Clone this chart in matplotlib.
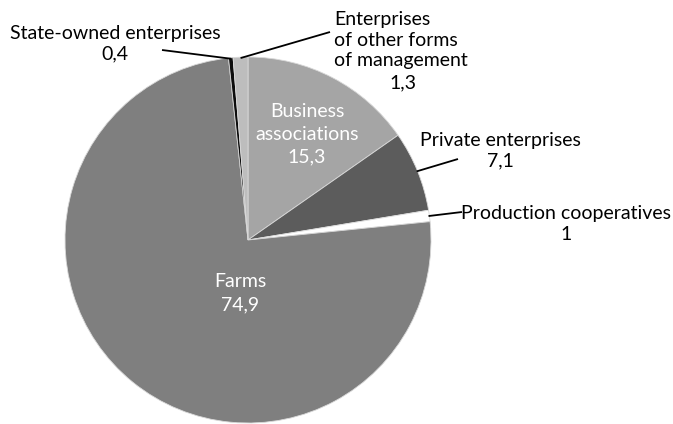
import numpy as np
import matplotlib.pyplot as plt

plt.rcParams["font.family"] = ["Lato", "DejaVu Sans"]

# clockwise from 12 o'clock
categories = ["Business associations", "Private enterprises", "Production cooperatives",
              "Farms", "State-owned enterprises", "Enterprises of other forms of management"]
values = [15.3, 7.1, 1.0, 74.9, 0.4, 1.3]
value_labels = ["15,3", "7,1", "1", "74,9", "0,4", "1,3"]
colors = ["#a5a5a5", "#5c5c5c", "#ffffff", "#7f7f7f", "#0d0d0d", "#bdbdbd"]

W, H = 673, 424
fig = plt.figure(figsize=(W / 100, H / 100), dpi=100)
ax = fig.add_axes([0, 0, 1, 1])

cx, cy, r = 248, H - 240, 183
wedges, _ = ax.pie(values, colors=colors, startangle=90, counterclock=False,
                   center=(cx, cy), radius=r, frame=True,
                   wedgeprops=dict(linewidth=0.6, edgecolor="#d9d9d9"))
ax.set_xlim(0, W)
ax.set_ylim(0, H)
ax.set_aspect("equal")
ax.axis("off")


def edge_point(i, frac=1.0):
    w = wedges[i]
    a = np.deg2rad((w.theta1 + w.theta2) / 2)
    return cx + r * frac * np.cos(a), cy + r * frac * np.sin(a)


fs = 14
# inside labels
ax.text(307, H - 134, "Business\nassociations\n" + value_labels[0], color="white",
        ha="center", va="center", fontsize=fs, linespacing=1.42)
ax.text(240, H - 293, "Farms\n" + value_labels[3], color="white",
        ha="center", va="center", fontsize=fs, linespacing=1.42)

# outside labels with leader lines
def leader(i, tx, ty):
    x0, y0 = edge_point(i, 0.995)
    ax.plot([x0, tx], [y0, H - ty], color="black", lw=1.3, solid_capstyle="butt")

leader(1, 458, 159)
ax.text(500, H - 151, "Private enterprises\n" + value_labels[1], ha="center", va="center",
        fontsize=fs, linespacing=1.22)

leader(2, 462, 212)
ax.text(566, H - 224, "Production cooperatives\n" + value_labels[2], ha="center", va="center",
        fontsize=fs, linespacing=1.22)

leader(4, 162, 50)
ax.text(115, H - 44, "State-owned enterprises\n" + value_labels[4], ha="center", va="center",
        fontsize=fs, linespacing=1.22)

leader(5, 330, 32)
ax.text(334, H - 40, "Enterprises\nof other forms\nof management", ha="left", va="center",
        fontsize=fs, linespacing=1.22)
ax.text(403, H - 83, value_labels[5], ha="center", va="center", fontsize=fs)

fig.savefig("out.png", dpi=100)
